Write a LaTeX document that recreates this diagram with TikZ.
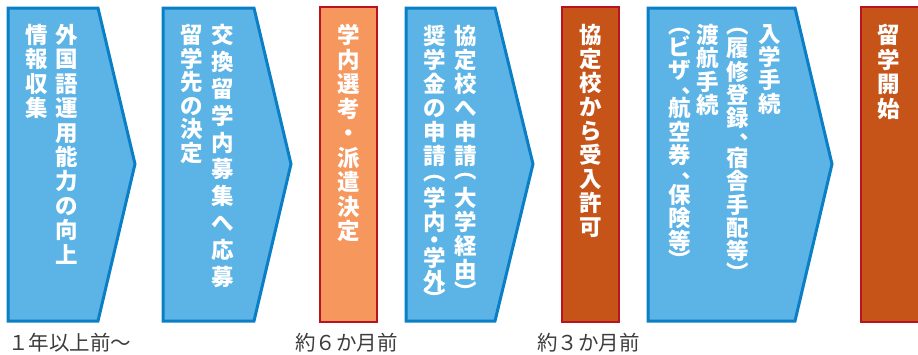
\documentclass[tikz,border=0pt]{standalone}
\usepackage{fontspec}
\newfontfamily\jpfont{Noto Sans CJK JP}
\usetikzlibrary{positioning}
\definecolor{stepblue}{RGB}{91,179,230}
\definecolor{stepblueline}{RGB}{10,127,198}
\definecolor{lightorange}{RGB}{246,151,94}
\definecolor{darkorange}{RGB}{198,84,24}
\definecolor{boxred}{RGB}{184,19,31}
\definecolor{labelgray}{RGB}{60,60,60}
\tikzset{
    arrowstep/.style={
        draw=stepblueline, fill=stepblue, line width=3pt, line join=miter
    },
    lightbox/.style={
        draw=boxred, fill=lightorange, line width=2.5pt
    },
    darkbox/.style={
        draw=boxred, fill=darkorange, line width=2.5pt
    },
    tate/.style={
        text=white, font=\jpfont\bfseries\fontsize{22.5}{#1}\selectfont, align=center, inner sep=0pt, anchor=north
    },
    tate/.default=24.4,
    timelabel/.style={
        text=labelgray, font=\jpfont\fontsize{20.5}{24}\selectfont, inner sep=0pt, anchor=west
    }
}

\begin{document}
\begin{tikzpicture}[x=1pt, y=-1pt]

    \useasboundingbox (0,0) rectangle (918,354);

    % Steps (arrows and boxes)
    \draw[arrowstep] (8,8) -- (98,8) -- (135,164) -- (98,321) -- (8,321) -- cycle;
    \draw[arrowstep] (163,8) -- (254,8) -- (291,164) -- (254,321) -- (163,321) -- cycle;
    \draw[lightbox] (320,7) rectangle (377,322);
    \draw[arrowstep] (406,8) -- (495,8) -- (533,164) -- (495,321) -- (406,321) -- cycle;
    \draw[darkbox] (562,7) rectangle (619,322);
    \draw[arrowstep] (648,8) -- (795,8) -- (832,164) -- (795,321) -- (648,321) -- cycle;
    \draw[darkbox] (861,7) rectangle (922,322);

    % Vertical texts
    \node[tate] (gogaku) at (67,24) {外\\国\\語\\運\\用\\能\\力\\の\\向\\上};
    \node[tate] (joho) at (37,24) {情\\報\\収\\集};
    \node[tate=26.9] (oubo) at (223,24) {交\\換\\留\\学\\内\\募\\集\\へ\\応\\募};
    \node[tate=23.5] (ryugakusaki) at (192,24) {留\\学\\先\\の\\決\\定};
    \node[tate=24.5] (senko) at (349,24) {学\\内\\選\\考\\・\\派\\遣\\決\\定};
    \node[tate=24] (shinsei) at (466,25)
        {協\\定\\校\\へ\\申\\請\\[-9.5pt]︵\\[3.5pt]大\\学\\経\\由\\[-1.5pt]︶};
    \node[tate=24] (shogakukin) at (435,25)
        {奨\\学\\金\\の\\申\\請\\[-7.5pt]︵\\[1.5pt]学\\内\\[-6pt]・\\[-6pt]学\\[-1pt]外\\[-5.5pt]︶};
    \node[tate=24] (kyoka) at (591,24) {協\\定\\校\\か\\ら\\受\\入\\許\\可};
    \node[tate=23.3] (nyugaku) at (770,24) {入\\学\\手\\続};
    \node[tate=23.3] (rishu) at (738,28)
        {︵\\履\\修\\登\\録\\[2.2pt]︑\\[-8.8pt]宿\\舎\\手\\配\\等\\[-1.3pt]︶};
    \node[tate=23.3] (tokou) at (708,24) {渡\\航\\手\\続};
    \node[tate=23.3] (visa) at (680,28)
        {︵\\[-1.3pt]ビ\\ザ\\[4.2pt]︑\\[-12.8pt]航\\空\\券\\[5.2pt]︑\\[-11.8pt]保\\険\\[-0.8pt]等\\[-3.8pt]︶};
    \node[tate=24.7] (kaishi) at (889,24) {留\\学\\開\\始};

    % Time labels
    \node[timelabel] (ichinen) at (8,343) {１年以上前〜};
    \node[timelabel] (rokkagetsu) at (295,343) {約６か月前};
    \node[timelabel] (sankagetsu) at (537,343) {約３か月前};

\end{tikzpicture}
\end{document}
